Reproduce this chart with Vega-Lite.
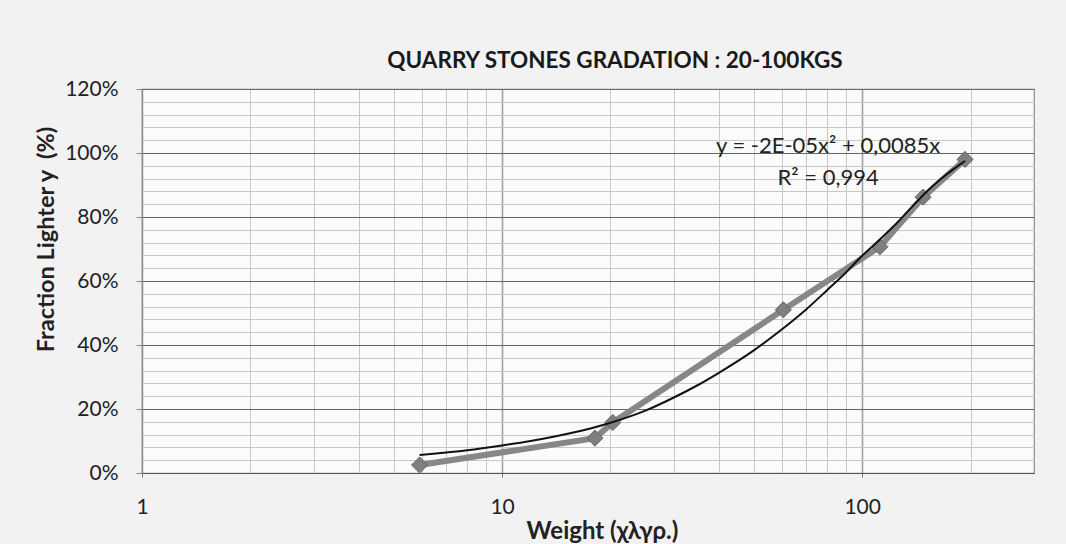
{
  "$schema": "https://vega.github.io/schema/vega-lite/v6.json",
  "width": 892,
  "height": 384,
  "autosize": {"type": "none"},
  "padding": {"left": 142, "top": 89, "right": 32, "bottom": 71},
  "background": "#f2f2f2",
  "config": {"font": "Lato", "view": {"fill": "#fbfbfb", "stroke": "#8c8c8c", "strokeWidth": 1.2}},
  "title": {"text": "QUARRY STONES GRADATION : 20-100KGS", "fontSize": 22.5, "fontWeight": "bold", "font": "Lato", "color": "#1a1a1a", "anchor": "middle", "dx": 27, "offset": -12, "baseline": "alphabetic"},
  "datasets": {
    "points": [
      {"weight": 5.9, "fraction": 0.025},
      {"weight": 18.1, "fraction": 0.109},
      {"weight": 20.3, "fraction": 0.158},
      {"weight": 60.4, "fraction": 0.51},
      {"weight": 112, "fraction": 0.707},
      {"weight": 147.6, "fraction": 0.862},
      {"weight": 193, "fraction": 0.98}
    ],
    "trend": [
      {"weight": 5.9, "fraction": 0.056},
      {"weight": 7, "fraction": 0.064},
      {"weight": 8, "fraction": 0.071},
      {"weight": 10, "fraction": 0.086},
      {"weight": 12, "fraction": 0.1},
      {"weight": 14, "fraction": 0.114},
      {"weight": 16, "fraction": 0.128},
      {"weight": 18, "fraction": 0.142},
      {"weight": 20, "fraction": 0.157},
      {"weight": 25, "fraction": 0.195},
      {"weight": 30, "fraction": 0.236},
      {"weight": 35, "fraction": 0.275},
      {"weight": 40, "fraction": 0.313},
      {"weight": 50, "fraction": 0.383},
      {"weight": 60, "fraction": 0.45},
      {"weight": 70, "fraction": 0.512},
      {"weight": 80, "fraction": 0.572},
      {"weight": 90, "fraction": 0.626},
      {"weight": 100, "fraction": 0.679},
      {"weight": 112, "fraction": 0.73},
      {"weight": 125, "fraction": 0.782},
      {"weight": 137, "fraction": 0.83},
      {"weight": 150, "fraction": 0.876},
      {"weight": 165, "fraction": 0.918},
      {"weight": 180, "fraction": 0.951},
      {"weight": 193, "fraction": 0.975}
    ],
    "notes": [
      {"weight": 80.4, "fraction": 1.0, "label": "y = -2E-05x² + 0,0085x"},
      {"weight": 80.4, "fraction": 0.9, "label": "R² = 0,994"}
    ]
  },
  "layer": [
    {
      "data": {"name": "points"},
      "mark": {"type": "line", "color": "#878787", "strokeWidth": 6, "point": {"shape": "diamond", "size": 260, "filled": true, "color": "#7f7f7f", "stroke": "#666666", "strokeWidth": 1}},
      "encoding": {
        "x": {
          "field": "weight", "type": "quantitative",
          "scale": {"type": "log", "domain": [1, 300], "nice": false},
          "axis": {
            "orient": "bottom", "values": [1, 10, 100], "format": "~g",
            "labelFontSize": 21, "labelColor": "#222222", "labelFont": "Lato",
            "labelFlush": false, "labelOverlap": false,
            "tickSize": 4, "tickColor": "#777777", "labelPadding": 19,
            "domainColor": "#555555", "domainWidth": 1.2,
            "grid": true, "gridColor": "#9a9a9a", "gridWidth": 1.5,
            "title": "Weight (χλγρ.)", "titleFontSize": 24, "titleFontWeight": "bold", "titleFont": "Lato", "titleColor": "#222222",
            "titleX": 460, "titleY": 65, "titleBaseline": "alphabetic", "titleAlign": "center"
          }
        },
        "y": {
          "field": "fraction", "type": "quantitative",
          "scale": {"domain": [0, 1.2], "nice": false},
          "axis": {
            "orient": "left", "values": [0, 0.2, 0.4, 0.6, 0.8, 1, 1.2], "format": ".0%",
            "labelFontSize": 21, "labelColor": "#222222", "labelFont": "Lato",
            "labelFlush": false, "labelOverlap": false,
            "tickSize": 6, "tickColor": "#888888", "labelPadding": 18,
            "domainColor": "#888888",
            "grid": true, "gridColor": "#666666", "gridWidth": 1,
            "title": "Fraction Lighter y\u00a0 (%)", "titleFontSize": 23.5, "titleFontWeight": "bold", "titleFont": "Lato", "titleColor": "#222222",
            "titleX": -89, "titleY": 150, "titleAngle": -90, "titleBaseline": "alphabetic", "titleAlign": "center"
          }
        }
      }
    },
    {
      "data": {"name": "trend"},
      "mark": {"type": "line", "color": "#111111", "strokeWidth": 2, "interpolate": "monotone"},
      "encoding": {
        "x": {
          "field": "weight", "type": "quantitative",
          "scale": {"type": "log", "domain": [1, 300], "nice": false},
          "axis": {"orient": "bottom", "values": [2, 3, 4, 5, 6, 7, 8, 9, 20, 30, 40, 50, 60, 70, 80, 90, 200], "grid": true, "gridColor": "#c8c8c8", "gridWidth": 1, "labels": false, "ticks": false, "domain": false, "title": null}
        },
        "y": {
          "field": "fraction", "type": "quantitative",
          "scale": {"domain": [0, 1.2], "nice": false},
          "axis": {"orient": "left", "values": [0.04, 0.08, 0.12, 0.16, 0.24, 0.28, 0.32, 0.36, 0.44, 0.48, 0.52, 0.56, 0.64, 0.68, 0.72, 0.76, 0.84, 0.88, 0.92, 0.96, 1.04, 1.08, 1.12, 1.16], "grid": true, "gridColor": "#c8c8c8", "gridWidth": 1, "labels": false, "ticks": false, "domain": false, "title": null}
        }
      }
    },
    {
      "data": {"name": "notes"},
      "mark": {"type": "text", "fontSize": 22, "font": "Lato", "color": "#222222", "align": "center", "baseline": "alphabetic"},
      "encoding": {
        "x": {"field": "weight", "type": "quantitative", "scale": {"type": "log", "domain": [1, 300], "nice": false}, "axis": null},
        "y": {"field": "fraction", "type": "quantitative", "scale": {"domain": [0, 1.2], "nice": false}, "axis": null},
        "text": {"field": "label", "type": "nominal"}
      }
    }
  ],
  "resolve": {"axis": {"x": "independent", "y": "independent"}}
}
